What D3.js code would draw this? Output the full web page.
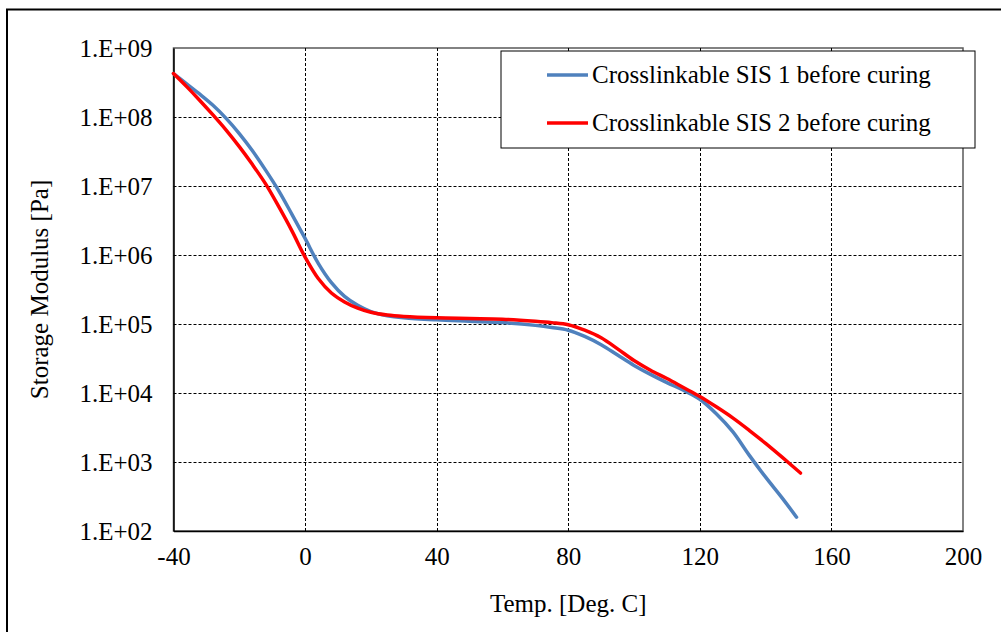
<!DOCTYPE html>
<html><head><meta charset="utf-8">
<script src="https://cdn.jsdelivr.net/npm/d3@7"></script>
<style>
html,body{margin:0;padding:0;background:#fff;overflow:hidden;}
text{font-family:"Liberation Serif","Times New Roman",serif;fill:#000;}
</style></head>
<body><svg id="chart" width="1001" height="632"></svg>
<script>
const seriesNames = ["Crosslinkable SIS 1 before curing", "Crosslinkable SIS 2 before curing"];
const seriesColors = ["#4F81BD", "#FF0000"];
const xTicks = [-40, 0, 40, 80, 120, 160, 200];
const yTicks = [1e2, 1e3, 1e4, 1e5, 1e6, 1e7, 1e8, 1e9];
const yTickLabels = ["1.E+02","1.E+03","1.E+04","1.E+05","1.E+06","1.E+07","1.E+08","1.E+09"];
// SIS 1 (blue): temperature [deg C], log10(storage modulus [Pa])
const tempSIS1 = [-40,-36,-32,-28,-24,-20,-16,-12,-8,-4,0,4,8,12,16,20,25,30,40,50,60,70,75,80,85,90,95,100,105,110,115,120,125,130,135,140,145,149.4];
const logSIS1  = [8.63,8.48,8.33,8.17,7.98,7.76,7.51,7.23,6.93,6.59,6.24,5.88,5.6,5.4,5.27,5.18,5.12,5.09,5.06,5.04,5.02,4.98,4.95,4.91,4.82,4.70,4.55,4.40,4.27,4.15,4.04,3.91,3.70,3.44,3.10,2.78,2.48,2.2];
// SIS 2 (red)
const tempSIS2 = [-40,-36,-32,-28,-24,-20,-16,-12,-8,-4,0,4,8,12,16,20,25,30,40,50,60,70,75,80,85,90,95,100,105,110,115,120,125,130,135,140,145,150.6];
const logSIS2  = [8.63,8.44,8.24,8.03,7.81,7.57,7.31,7.03,6.7,6.35,5.97,5.66,5.45,5.32,5.23,5.17,5.13,5.11,5.09,5.08,5.07,5.04,5.02,4.99,4.91,4.80,4.64,4.47,4.33,4.21,4.08,3.95,3.80,3.64,3.46,3.27,3.07,2.84];

const svg = d3.select("#chart");
const L = 173.5, R = 963, T = 48, B = 531;
const x = d3.scaleLinear().domain([-40, 200]).range([L, R]);
const y = d3.scaleLog().domain([1e2, 1e9]).range([B, T]);

// outer frame
svg.append("rect").attr("x", 7).attr("y", 9.5).attr("width", 1100).attr("height", 700)
  .attr("fill", "none").attr("stroke", "#000").attr("stroke-width", 2);

// plot border
svg.append("rect").attr("x", L).attr("y", T).attr("width", R - L).attr("height", B - T)
  .attr("fill", "none").attr("stroke", "#595959").attr("stroke-width", 1.5);

// grid
const g = svg.append("g");
g.selectAll(".vg").data(xTicks.slice(1, -1)).enter().append("line")
  .attr("x1", d => Math.round(x(d)) + 0.5).attr("x2", d => Math.round(x(d)) + 0.5)
  .attr("y1", T).attr("y2", B)
  .attr("stroke", "#000").attr("stroke-width", 1).attr("stroke-dasharray", "3,2");
g.selectAll(".hg").data(yTicks.slice(1, -1)).enter().append("line")
  .attr("y1", d => Math.round(y(d)) + 0.5).attr("y2", d => Math.round(y(d)) + 0.5)
  .attr("x1", L).attr("x2", R)
  .attr("stroke", "#000").attr("stroke-width", 1).attr("stroke-dasharray", "3,2");

// axes
const xAxis = d3.axisBottom(x).tickValues(xTicks).tickSize(0).tickPadding(16).tickFormat(d => String(d));
const yAxis = d3.axisLeft(y).tickValues(yTicks).tickSize(0).tickPadding(21)
  .tickFormat((d, i) => yTickLabels[i]);
const gx = svg.append("g").attr("transform", `translate(0,${B})`).call(xAxis);
const gy = svg.append("g").attr("transform", `translate(${L},0)`).call(yAxis);
[gx, gy].forEach(a => {
  a.select(".domain").attr("stroke", "#000").attr("stroke-width", 1.5);
  a.selectAll("text").style("font-family", '"Liberation Serif", serif').style("font-size", "25px").attr("fill", "#000");
});

// lines
const line = d3.line().x(d => x(d[0])).y(d => y(Math.pow(10, d[1]))).curve(d3.curveCatmullRom.alpha(0.5));
const data1 = tempSIS1.map((t, i) => [t, logSIS1[i]]);
const data2 = tempSIS2.map((t, i) => [t, logSIS2[i]]);
svg.append("path").datum(data1).attr("d", line).attr("fill", "none")
  .attr("stroke", seriesColors[0]).attr("stroke-width", 3.5).attr("stroke-linejoin", "round").attr("stroke-linecap", "round");
svg.append("path").datum(data2).attr("d", line).attr("fill", "none")
  .attr("stroke", seriesColors[1]).attr("stroke-width", 3.5).attr("stroke-linejoin", "round").attr("stroke-linecap", "round");

// axis titles
svg.append("text").attr("x", (L + R) / 2).attr("y", 612).attr("text-anchor", "middle")
  .style("font-size", "25px").text("Temp. [Deg. C]");
svg.append("text").attr("transform", `translate(48,${(T + B) / 2}) rotate(-90)`).attr("text-anchor", "middle")
  .style("font-size", "25px").text("Storage Modulus [Pa]");

// legend
const lg = svg.append("g");
lg.append("rect").attr("x", 501).attr("y", 51).attr("width", 474).attr("height", 97)
  .attr("fill", "#fff").attr("stroke", "#000").attr("stroke-width", 1);
seriesNames.forEach((n, i) => {
  const yy = 75 + i * 48;
  lg.append("line").attr("x1", 547).attr("x2", 588).attr("y1", yy).attr("y2", yy)
    .attr("stroke", seriesColors[i]).attr("stroke-width", 3.5);
  lg.append("text").attr("x", 592).attr("y", yy + 8).style("font-size", "25px").text(n);
});
</script></body></html>
